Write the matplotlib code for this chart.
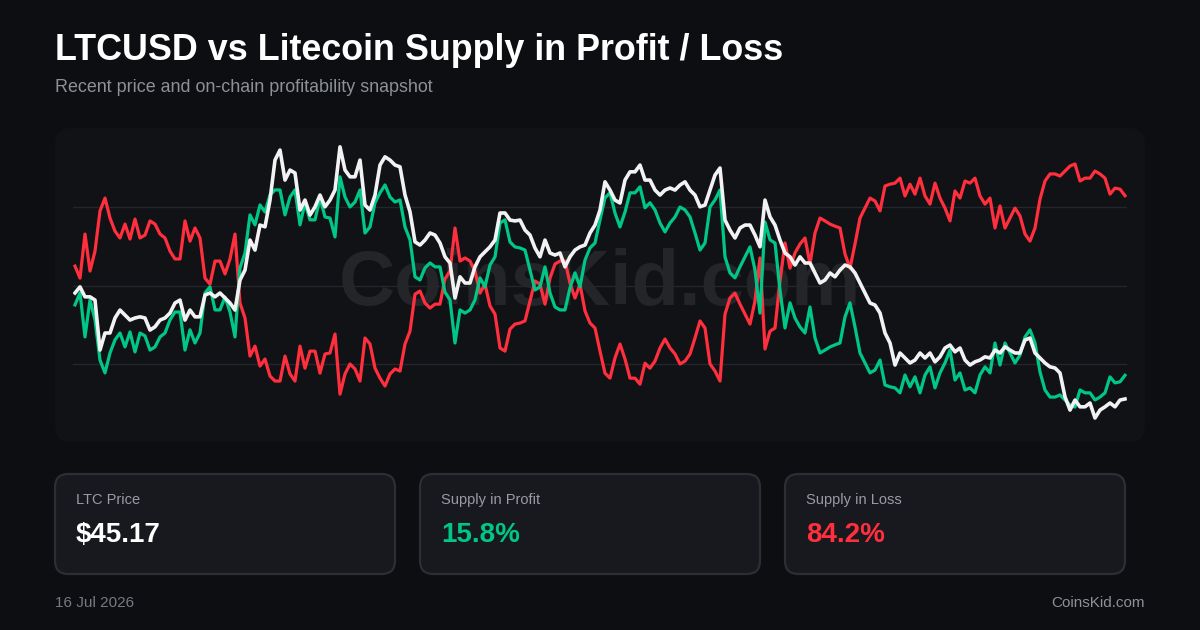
import numpy as np
import matplotlib.pyplot as plt
from matplotlib.patches import FancyBboxPatch

plt.rcParams['font.family'] = ['Liberation Sans', 'DejaVu Sans']

# LTC price (USD), roughly daily samples, oldest -> newest
price = [
    81.2, 83.3, 79.9, 79.9, 78.8, 61.8, 67.6, 67.6, 72.7, 75.4,
    73.7, 72.0, 72.7, 73.1, 72.7, 68.6, 69.7, 72.0, 72.7, 74.4,
    77.8, 78.8, 72.0, 75.4, 73.1, 73.1, 80.5, 81.2, 79.9, 81.2,
    79.5, 77.8, 75.4, 85.6, 89.0, 99.2, 95.8, 104.3, 103.7, 112.8,
    126.4, 129.8, 119.6, 123.0, 122.0, 109.4, 112.8, 107.7, 110.5, 114.5,
    110.5, 112.8, 116.2, 130.9, 123.0, 120.7, 120.7, 126.4, 111.1, 109.4,
    114.5, 124.7, 127.5, 126.4, 124.7, 124.1, 114.5, 108.8, 98.6, 97.5,
    99.2, 101.6, 100.9, 98.2, 93.5, 91.4, 79.5, 86.7, 84.6, 84.6,
    90.1, 93.5, 95.2, 96.9, 99.2, 108.4, 108.4, 106.0, 105.7, 106.0,
    102.6, 100.9, 96.5, 93.5, 99.2, 94.8, 94.1, 94.8, 90.1, 93.5,
    95.8, 96.9, 97.5, 101.6, 104.3, 109.4, 119.0, 116.2, 112.8, 111.8,
    119.6, 122.4, 122.4, 124.7, 119.6, 119.6, 116.2, 114.5, 116.2, 116.9,
    116.2, 117.9, 119.0, 116.2, 114.5, 110.5, 111.1, 116.2, 121.3, 123.7,
    106.0, 102.6, 99.9, 103.3, 104.3, 104.3, 100.9, 96.9, 112.8, 107.1,
    104.3, 99.2, 94.8, 93.5, 90.7, 93.5, 91.4, 91.4, 88.0, 84.6,
    85.6, 88.0, 86.7, 89.0, 90.7, 90.1, 88.0, 84.6, 81.2, 77.8,
    77.1, 74.4, 67.6, 64.2, 56.7, 60.8, 59.1, 57.4, 58.4, 60.8,
    59.1, 60.8, 57.8, 59.5, 62.5, 63.5, 61.2, 62.5, 58.4, 56.7,
    57.8, 58.4, 59.5, 59.1, 61.8, 60.8, 62.9, 61.8, 60.8, 60.8,
    65.2, 65.9, 60.8, 59.1, 57.4, 56.1, 55.7, 54.0, 45.9, 41.4,
    44.8, 42.5, 42.5, 43.8, 38.7, 41.4, 42.5, 43.8, 42.5, 44.8,
    45.17,
]

# share of supply in profit (%)
profit = [
    42.6, 47.2, 30.4, 44.5, 36.9, 21.6, 16.7, 24.3, 29.3, 31.9,
    26.6, 32.3, 24.7, 31.9, 30.8, 25.4, 26.6, 30.4, 31.9, 36.9,
    39.9, 39.9, 25.4, 33.1, 28.1, 31.9, 47.2, 49.5, 40.7, 40.7,
    45.6, 39.9, 30.4, 56.7, 62.4, 76.9, 73.1, 80.7, 78.0, 84.5,
    86.4, 86.4, 76.9, 83.7, 86.4, 73.1, 81.5, 75.0, 75.0, 83.4,
    76.1, 75.7, 68.5, 91.4, 83.7, 79.9, 81.8, 86.4, 70.0, 72.3,
    81.5, 85.3, 88.3, 83.7, 81.8, 82.6, 72.3, 67.4, 53.3, 52.1,
    56.7, 58.6, 57.1, 57.1, 47.5, 44.5, 28.1, 40.7, 39.5, 40.7,
    44.5, 52.9, 49.5, 57.8, 60.9, 73.8, 75.0, 66.6, 64.7, 64.3,
    63.5, 55.9, 48.3, 49.5, 57.1, 47.2, 41.8, 40.7, 40.7, 49.1,
    54.8, 49.5, 59.7, 64.3, 66.2, 75.0, 83.4, 85.3, 77.6, 72.3,
    78.0, 85.3, 85.3, 87.6, 79.6, 81.5, 78.8, 73.8, 70.4, 73.8,
    76.1, 79.9, 78.8, 76.1, 70.0, 63.5, 66.2, 79.9, 82.6, 86.4,
    60.9, 54.8, 52.9, 57.1, 60.9, 64.7, 55.9, 39.5, 74.2, 67.4,
    66.2, 48.3, 33.8, 43.4, 37.6, 34.2, 31.9, 41.8, 30.0, 24.3,
    25.4, 26.6, 27.4, 28.1, 38.0, 43.4, 34.2, 24.3, 20.5, 16.7,
    17.8, 21.6, 12.1, 11.4, 11.0, 9.1, 15.9, 11.4, 15.2, 9.1,
    15.9, 19.0, 11.0, 16.7, 20.5, 25.4, 14.0, 16.7, 10.2, 11.0,
    9.1, 15.9, 19.0, 16.7, 28.1, 19.7, 28.1, 24.3, 20.5, 23.5,
    30.4, 33.1, 28.1, 17.1, 10.2, 7.5, 7.5, 8.3, 6.4, 4.5,
    3.7, 10.2, 9.1, 9.1, 6.4, 7.5, 9.1, 15.2, 12.9, 13.3,
    15.8,
]

# supply in loss is the remainder of circulating supply
loss = [round(100 - p, 1) for p in profit]

date_label = "16 Jul 2026"
card_titles = ["LTC Price", "Supply in Profit", "Supply in Loss"]
card_values = ["$%.2f" % price[-1], "%.1f%%" % profit[-1], "%.1f%%" % loss[-1]]

BG = "#0d0e11"
PANEL = "#111216"
WHITE = "#f2f2f2"
GREEN = "#00c785"
RED = "#ff2f3e"
GRID = "#25262b"

W, H = 1200, 630
fig = plt.figure(figsize=(12, 6.3), dpi=100)
fig.patch.set_facecolor(BG)


def fx(px):
    return px / W


def fy(py):
    return 1 - py / H


# chart panel
panel = FancyBboxPatch((fx(55), fy(442)), fx(1090), (442 - 128) / H,
                       boxstyle="round,pad=0,rounding_size=0.014",
                       transform=fig.transFigure, facecolor=PANEL,
                       edgecolor="none", zorder=0, mutation_aspect=W / H)
fig.patches.append(panel)

fig.text(fx(55), fy(50), "LTCUSD vs Litecoin Supply in Profit / Loss",
         color="white", fontsize=25.8, fontweight="bold", va="center")
fig.text(fx(55), fy(88), "Recent price and on-chain profitability snapshot",
         color="#8e9099", fontsize=12.9, va="center")

# watermark
fig.text(0.5, fy(285), "CoinsKid.com", color="#242529", fontsize=56,
         fontweight="bold", ha="center", va="center", zorder=1)

ax = fig.add_axes([fx(73), fy(443), fx(1127 - 73), (443 - 128) / H])
ax.set_facecolor("none")
ax.set_zorder(2)
x = np.arange(len(price))
ax.set_xlim(-0.4, len(price) - 0.6)
ax.set_ylim(-10, 110)
ax.set_yticks([20, 50, 80])
ax.grid(axis="y", color=GRID, linewidth=1)
for s in ax.spines.values():
    s.set_visible(False)

ax.plot(x, loss, color=RED, linewidth=2.3, solid_joinstyle="round")
ax.plot(x, profit, color=GREEN, linewidth=2.3, solid_joinstyle="round")

ax2 = ax.twinx()
ax2.set_ylim(30.2, 137.3)
ax2.axis("off")
ax2.plot(x, price, color=WHITE, linewidth=2.6, solid_joinstyle="round")

ax.tick_params(which="both", length=0, left=False, right=False, bottom=False,
               labelleft=False, labelright=False, labelbottom=False)

# stat cards
card_x = [55, 420, 785]
value_colors = ["white", GREEN, RED]
for cx, title, val, col in zip(card_x, card_titles, card_values, value_colors):
    card = FancyBboxPatch((fx(cx), fy(574)), fx(340), (574 - 474) / H,
                          boxstyle="round,pad=0,rounding_size=0.011",
                          transform=fig.transFigure, facecolor="#18191e",
                          edgecolor="#2d2e34", linewidth=1.6,
                          mutation_aspect=W / H)
    fig.patches.append(card)
    fig.text(fx(cx + 21), fy(500), title, color="#9a9ca5", fontsize=10.5,
             va="center")
    fig.text(fx(cx + 21), fy(535), val, color=col, fontsize=20,
             fontweight="bold", va="center")

fig.text(fx(55), fy(603), date_label, color="#777983", fontsize=11,
         va="center")
fig.text(fx(1145), fy(603), "CoinsKid.com", color="#8e9099", fontsize=11,
         va="center", ha="right")

fig.savefig("out.png", dpi=100, facecolor=BG)
